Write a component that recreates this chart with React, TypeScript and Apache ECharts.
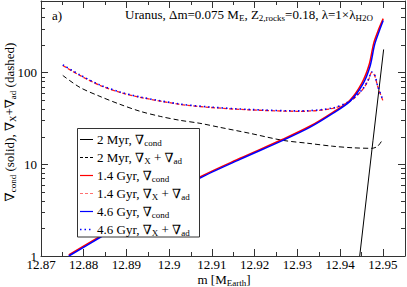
import React, { useEffect, useRef } from 'react';
import * as echarts from 'echarts';

// ---- data (m in M_Earth, gradient values) ----
const m2MyrCond = [12.9446, 12.9477, 12.9502];
const v2MyrCond = [1.0, 18.0, 178];

const m2MyrXad = [12.8751, 12.8791, 12.8838, 12.8885, 12.8932, 12.8979, 12.9025, 12.9072, 12.9119, 12.9189, 12.9266, 12.9325, 12.9383, 12.943, 12.9474, 12.9488, 12.95];
const v2MyrXad = [92.7, 68.7, 54.8, 44.9, 37.7, 33.2, 30.1, 27.9, 25.2, 21.7, 18.2, 16.9, 15.7, 15.1, 14.9, 15.7, 18.7];

const m14GyrCond = [12.8765, 12.8838, 12.8908, 12.8978, 12.9072, 12.9166, 12.9266, 12.9329, 12.9383, 12.9423, 12.9451, 12.9468, 12.9479, 12.9491, 12.9501];
const v14GyrCond = [1.03, 1.64, 2.56, 4.02, 7.25, 11.6, 18.7, 25.9, 36.8, 49.8, 76.5, 121, 210, 300, 386];

const m14GyrXad = [12.8751, 12.8791, 12.8838, 12.8885, 12.8932, 12.9025, 12.9095, 12.9189, 12.9306, 12.9383, 12.9423, 12.9453, 12.9467, 12.9474, 12.9481, 12.9488, 12.95];
const v14GyrXad = [119, 92.7, 72.2, 60.6, 53.5, 44.9, 41.6, 39.1, 37.7, 40.6, 48.4, 65.3, 83.9, 100, 92.7, 70.6, 49.6];

const m46GyrCond = [12.8765, 12.8838, 12.8908, 12.8978, 12.9072, 12.9166, 12.9266, 12.9329, 12.9383, 12.9423, 12.9453, 12.947, 12.9481, 12.9493, 12.9501];
const v46GyrCond = [1.0, 1.59, 2.49, 3.91, 7.05, 11.3, 18.2, 25.2, 35.8, 48.4, 74.1, 116, 202, 293, 368];

const m46GyrXad = [12.8751, 12.8791, 12.8838, 12.8885, 12.8932, 12.9025, 12.9095, 12.9189, 12.9306, 12.9383, 12.9423, 12.9453, 12.9467, 12.9474, 12.9481, 12.9488, 12.95];
const v46GyrXad = [121, 94, 73, 61.2, 54, 45.3, 42, 39.5, 38.1, 41, 49, 66, 85, 101, 94, 71.5, 50.3];

const xMinorTicks = [12.875, 12.885, 12.895, 12.905, 12.915, 12.925, 12.935, 12.945];
const yMinorTicks = [2, 3, 4, 5, 6, 7, 8, 9, 20, 30, 40, 50, 60, 70, 80, 90, 200, 300, 400, 500];
const yMajorLabels = [1, 10, 100];

const X_MIN = 12.87;
const X_MAX = 12.9552;
const Y_MIN = 1;
const Y_MAX = 600;

const FONT = "'Liberation Serif', 'Times New Roman', 'DejaVu Serif', serif";
const FRAME = '#333';

const zip = (a: number[], b: number[]) => a.map((x, i) => [x, b[i]]);

const legendRows = [
  { text: '{n|2 Myr, ∇}{s|cond}', color: '#000', dash: null as any, width: 1 },
  { text: '{n|2 Myr, ∇}{s|X}{n| + ∇}{s|ad}', color: '#000', dash: [3, 2], width: 1 },
  { text: '{n|1.4 Gyr, ∇}{s|cond}', color: '#ff0000', dash: null, width: 1.2 },
  { text: '{n|1.4 Gyr, ∇}{s|X}{n| + ∇}{s|ad}', color: '#ff7070', dash: [3, 2], width: 1.2 },
  { text: '{n|4.6 Gyr, ∇}{s|cond}', color: '#0000ff', dash: null, width: 1.2 },
  { text: '{n|4.6 Gyr, ∇}{s|X}{n| + ∇}{s|ad}', color: '#0000ff', dash: [1.5, 3], width: 1.5 },
];

const rich = (size: number, sub: number) => ({
  n: { fontSize: size, fontFamily: FONT, color: '#000' },
  s: { fontSize: sub, fontFamily: FONT, color: '#000', padding: [7, 0, 0, 0] },
});

export default function App() {
  const ref = useRef<HTMLDivElement>(null);
  useEffect(() => {
    if (!ref.current) return;
    const chart = echarts.init(ref.current, undefined, { renderer: 'svg' });

    const xLabelFmt = (v: number) => {
      const k = Math.round(v * 100);
      if (Math.abs(v * 100 - k) > 1e-6) return '';
      return String(+(k / 100).toFixed(2));
    };
    const yLabelFmt = (v: number) => {
      const r = Math.round(v);
      return yMajorLabels.includes(r) && Math.abs(v - r) < 1e-6 ? String(r) : '';
    };

    const baseX = {
      type: 'value',
      min: X_MIN,
      max: X_MAX,
      interval: 0.01,
      axisLine: { show: true, onZero: false, lineStyle: { color: FRAME, width: 1 } },
      axisTick: { show: true, inside: true, length: 7, lineStyle: { color: FRAME } },
      splitLine: { show: false },
    };
    const baseY = {
      type: 'log',
      logBase: 10,
      min: Y_MIN,
      max: Y_MAX,
      axisLine: { show: true, onZero: false, lineStyle: { color: FRAME, width: 1 } },
      axisTick: { show: true, inside: true, length: 7, lineStyle: { color: FRAME } },
      splitLine: { show: false },
    };

    const tickData: number[][] = [
      ...xMinorTicks.map((v) => [v, 10, 0]),
      ...yMinorTicks.map((v) => [12.9, v, 1]),
    ];

    const legendGraphics: any[] = [
      {
        type: 'rect',
        shape: { x: 77.5, y: 128.5, width: 122, height: 108.5 },
        style: { fill: '#fff', stroke: FRAME, lineWidth: 1 },
        z: 100,
      },
    ];
    legendRows.forEach((r, i) => {
      const y = 139 + i * 18;
      legendGraphics.push({
        type: 'line',
        shape: { x1: 80, y1: y + 0.5, x2: 93, y2: y + 0.5 },
        style: { stroke: r.color, lineWidth: r.width, lineDash: r.dash || undefined },
        z: 101,
      });
      legendGraphics.push({
        type: 'text',
        x: 97,
        y: y,
        style: {
          text: r.text,
          rich: rich(13, 9),
          fontSize: 13,
          fontFamily: FONT,
          fill: '#000',
          align: 'left',
          verticalAlign: 'middle',
        },
        z: 101,
      });
    });

    chart.setOption({
      animation: false,
      backgroundColor: '#fff',
      textStyle: { fontFamily: FONT },
      grid: { left: 41, right: 2, top: 1, bottom: 31, containLabel: false },
      xAxis: [
        {
          ...baseX,
          position: 'bottom',
          axisLabel: { show: true, formatter: xLabelFmt, fontFamily: FONT, fontSize: 13, color: '#000', margin: 2, showMaxLabel: false },
        },
        { ...baseX, position: 'top', axisLabel: { show: false } },
      ],
      yAxis: [
        {
          ...baseY,
          position: 'left',
          axisLabel: { show: true, formatter: yLabelFmt, fontFamily: FONT, fontSize: 13, color: '#000', margin: 4, showMaxLabel: false },
        },
        { ...baseY, position: 'right', axisLabel: { show: false } },
      ],
      series: [
        {
          type: 'custom',
          name: 'minorTicks',
          xAxisIndex: 0,
          yAxisIndex: 0,
          clip: false,
          silent: true,
          data: tickData,
          renderItem: (params: any, api: any) => {
            const cs = params.coordSys;
            const kind = api.value(2);
            const st = { stroke: FRAME, lineWidth: 1 };
            if (kind === 0) {
              const px = Math.round(api.coord([api.value(0), 10])[0]) + 0.5;
              const yb = cs.y + cs.height;
              return {
                type: 'group',
                children: [
                  { type: 'line', shape: { x1: px, y1: yb, x2: px, y2: yb - 4 }, style: st },
                  { type: 'line', shape: { x1: px, y1: cs.y, x2: px, y2: cs.y + 4 }, style: st },
                ],
              };
            }
            const py = Math.round(api.coord([12.9, api.value(1)])[1]) + 0.5;
            const xr = cs.x + cs.width;
            return {
              type: 'group',
              children: [
                { type: 'line', shape: { x1: cs.x, y1: py, x2: cs.x + 4, y2: py }, style: st },
                { type: 'line', shape: { x1: xr, y1: py, x2: xr - 4, y2: py }, style: st },
              ],
            };
          },
        },
        {
          type: 'line', name: '2 Myr cond', data: zip(m2MyrCond, v2MyrCond), showSymbol: false, symbol: 'none',
          lineStyle: { color: '#000', width: 1 },
        },
        {
          type: 'line', name: '2 Myr Xad', data: zip(m2MyrXad, v2MyrXad), showSymbol: false, symbol: 'none', smooth: 0.3,
          lineStyle: { color: '#000', width: 1, type: [5, 3] },
        },
        {
          type: 'line', name: '1.4 Gyr cond', data: zip(m14GyrCond, v14GyrCond), showSymbol: false, symbol: 'none', smooth: 0.3,
          lineStyle: { color: '#ff0000', width: 1.5 },
        },
        {
          type: 'line', name: '1.4 Gyr Xad', data: zip(m14GyrXad, v14GyrXad), showSymbol: false, symbol: 'none', smooth: 0.3,
          lineStyle: { color: '#ff2020', width: 1.3, type: [4, 2] },
        },
        {
          type: 'line', name: '4.6 Gyr cond', data: zip(m46GyrCond, v46GyrCond), showSymbol: false, symbol: 'none', smooth: 0.3,
          lineStyle: { color: '#0000ff', width: 1.5 },
        },
        {
          type: 'line', name: '4.6 Gyr Xad', data: zip(m46GyrXad, v46GyrXad), showSymbol: false, symbol: 'none', smooth: 0.3,
          lineStyle: { color: '#0000ff', width: 1.6, type: [1.5, 3] },
        },
      ],
      graphic: [
        {
          type: 'text', x: 52, y: 15,
          style: { text: 'a)', fontSize: 13, fontFamily: FONT, fill: '#000', align: 'left', verticalAlign: 'middle' },
        },
        {
          type: 'text', x: 125, y: 14,
          style: {
            text: '{n|Uranus, Δm=0.075 M}{s|E}{n|, Z}{s|2,rocks}{n|=0.18, λ=1×λ}{s|H2O}',
            rich: rich(13, 9), fontSize: 13, fontFamily: FONT, fill: '#000', align: 'left', verticalAlign: 'middle',
          },
        },
        {
          type: 'text', x: 224, y: 279,
          style: {
            text: '{n|m [M}{s|Earth}{n|]}',
            rich: rich(13, 9), fontSize: 13, fontFamily: FONT, fill: '#000', align: 'center', verticalAlign: 'middle',
          },
        },
        {
          type: 'text', x: 9, y: 122, rotation: Math.PI / 2,
          style: {
            text: '{n|∇}{s|cond}{n| (solid), ∇}{s|X}{n|+∇}{s|ad}{n| (dashed)}',
            rich: rich(13, 9), fontSize: 13, fontFamily: FONT, fill: '#000', align: 'center', verticalAlign: 'middle',
          },
        },
        ...legendGraphics,
      ],
    });
    return () => chart.dispose();
  }, []);
  return <div ref={ref} style={{ position: 'fixed', left: 0, top: 0, width: 407, height: 287 }} />;
}
